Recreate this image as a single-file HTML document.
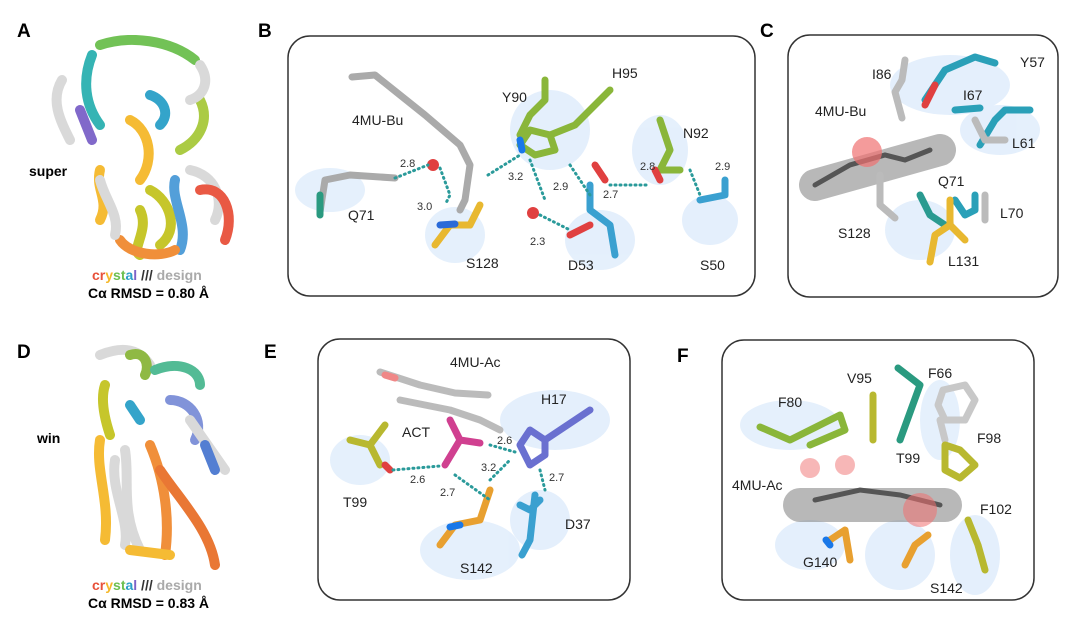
<!DOCTYPE html>
<html><head><meta charset="utf-8"><style>
body{margin:0;background:#fff;}
svg{display:block;font-family:"Liberation Sans",Arial,sans-serif;}
.pl{font-weight:bold;font-size:19px;}
.lb{font-size:14px;fill:#222;}
.sm{font-size:11px;fill:#333;}
.box{fill:none;stroke:#333;stroke-width:1.5;}
.st{fill:none;stroke-linecap:round;stroke-linejoin:round;}
.hb{stroke:#2a9a9a;stroke-width:3;stroke-dasharray:1 4;stroke-linecap:round;fill:none;}
.mesh{fill:#cfe3fa;opacity:0.55;}
</style></head><body>
<svg width="1080" height="630" viewBox="0 0 1080 630">
<text class="pl" x="17" y="37">A</text>
<text class="pl" x="258" y="37">B</text>
<text class="pl" x="760" y="37">C</text>
<text class="pl" x="17" y="358">D</text>
<text class="pl" x="264" y="358">E</text>
<text class="pl" x="677" y="362">F</text>

<!-- A protein -->
<g class="st" stroke-width="10" opacity="0.95">
<path d="M100 45 C130 35 170 40 195 60" stroke="#6bbf4e"/>
<path d="M92 55 C82 80 85 105 100 125" stroke="#2bb0b0"/>
<path d="M62 80 C50 100 60 120 70 140" stroke="#d8d8d8"/>
<path d="M80 110 L92 140" stroke="#7b62c8"/>
<path d="M130 120 C150 130 155 160 140 180" stroke="#f5b82a"/>
<path d="M100 170 C95 190 110 200 100 220" stroke="#f5b82a"/>
<path d="M150 190 C170 200 180 230 160 245" stroke="#c3c320"/>
<path d="M140 210 C150 230 130 250 140 255" stroke="#c3c320"/>
<path d="M180 150 C200 140 210 120 200 100" stroke="#a7c93a"/>
<path d="M190 170 C215 175 225 200 215 220" stroke="#d8d8d8"/>
<path d="M200 190 C225 185 235 215 225 240" stroke="#e8513a"/>
<path d="M175 180 C170 200 190 225 180 250" stroke="#4a9ad8"/>
<path d="M120 240 C130 255 160 258 175 250" stroke="#f08a30"/>
<path d="M150 95 C165 100 170 115 160 125" stroke="#2aa0c8"/>
<path d="M100 180 C105 200 120 215 115 235" stroke="#d8d8d8"/>
<path d="M200 65 C210 80 205 95 190 100" stroke="#d8d8d8"/>
</g>
<text x="29" y="176" style="font-size:14px;font-weight:bold">super</text>
<text x="92" y="280" style="font-size:14px;font-weight:bold"><tspan fill="#e8513a">cr</tspan><tspan fill="#f5b82a">y</tspan><tspan fill="#6bbf4e">st</tspan><tspan fill="#2aa0c8">a</tspan><tspan fill="#7b62c8">l</tspan><tspan fill="#333"> /// </tspan><tspan fill="#aaa">design</tspan></text>
<text x="88" y="298" style="font-size:14px;font-weight:bold">Cα RMSD = 0.80 Å</text>

<!-- D protein -->
<g class="st" stroke-width="10" opacity="0.95">
<path d="M100 355 C125 345 140 350 150 365" stroke="#d8d8d8"/>
<path d="M130 355 C145 350 150 365 145 375" stroke="#8ab63a"/>
<path d="M155 370 C180 360 200 370 200 385" stroke="#4ab890"/>
<path d="M170 400 C190 400 205 420 195 440" stroke="#7b8ed8"/>
<path d="M190 420 L225 470" stroke="#d8d8d8"/>
<path d="M205 445 L215 470" stroke="#4a78d0"/>
<path d="M105 385 C100 400 105 420 110 435" stroke="#c3c320"/>
<path d="M130 405 L140 420" stroke="#2aa0c8"/>
<path d="M100 440 C95 470 110 500 105 540" stroke="#f5b82a"/>
<path d="M125 450 C130 480 120 510 140 550" stroke="#d8d8d8"/>
<path d="M150 445 C165 480 170 520 165 555" stroke="#f08a30"/>
<path d="M160 470 C180 500 210 530 215 565" stroke="#e8702a"/>
<path d="M115 460 C110 490 130 520 125 545" stroke="#d8d8d8"/>
<path d="M130 550 L170 555" stroke="#f5b82a"/>
</g>
<text x="37" y="443" style="font-size:14px;font-weight:bold">win</text>
<text x="92" y="590" style="font-size:14px;font-weight:bold"><tspan fill="#e8513a">cr</tspan><tspan fill="#f5b82a">y</tspan><tspan fill="#6bbf4e">st</tspan><tspan fill="#2aa0c8">a</tspan><tspan fill="#7b62c8">l</tspan><tspan fill="#333"> /// </tspan><tspan fill="#aaa">design</tspan></text>
<text x="88" y="608" style="font-size:14px;font-weight:bold">Cα RMSD = 0.83 Å</text>

<!-- B box -->
<rect class="box" x="288" y="36" width="467" height="260" rx="22"/>
<g class="mesh">
<ellipse cx="330" cy="190" rx="35" ry="22"/><ellipse cx="455" cy="235" rx="30" ry="28"/>
<ellipse cx="550" cy="130" rx="40" ry="40"/><ellipse cx="600" cy="240" rx="35" ry="30"/>
<ellipse cx="660" cy="150" rx="28" ry="35"/><ellipse cx="710" cy="220" rx="28" ry="25"/>
</g>
<g class="st" stroke-width="7">
<path d="M352 77 L375 75 L400 95 L425 115 L460 145 L470 165 L465 200 L460 210" stroke="#aaa"/>
<path d="M320 212 L325 180 L350 175 L395 178" stroke="#aaa"/>
<path d="M320 215 L320 195" stroke="#2a9a80"/>
<path d="M435 245 L450 225 L470 225 L480 205" stroke="#e8b830"/>
<path d="M440 225 L455 224" stroke="#2a6ad8"/>
<path d="M520 145 L535 155 L555 150 L550 135 L530 130 Z" stroke="#8ab63a"/>
<path d="M520 135 L530 115 L545 100 L545 80" stroke="#8ab63a"/>
<path d="M550 135 L575 125 L600 100 L610 90" stroke="#8ab63a"/>
<path d="M520 140 L522 150" stroke="#1a78e8"/>
<path d="M595 165 L605 180" stroke="#e04040"/>
<path d="M590 185 L590 210 L610 225 L615 255" stroke="#3aa0d0"/>
<path d="M570 235 L590 225" stroke="#e04040"/>
<path d="M660 120 L670 150 L660 170 L680 170" stroke="#8ab63a"/>
<path d="M655 170 L660 180" stroke="#e04040"/>
<path d="M700 200 L725 195 L725 180" stroke="#3aa0d0"/>
</g>
<g fill="#e04040"><circle cx="433" cy="165" r="6"/><circle cx="533" cy="213" r="6"/></g>
<g class="hb">
<path d="M395 178 L428 165"/><path d="M440 168 L450 195 L445 205"/><path d="M488 175 L520 155"/>
<path d="M530 160 L545 200"/><path d="M570 165 L590 195"/><path d="M610 185 L650 185"/>
<path d="M540 215 L570 230"/><path d="M690 170 L700 195"/>
</g>
<text class="lb" x="352" y="125">4MU-Bu</text>
<text class="lb" x="502" y="102">Y90</text>
<text class="lb" x="612" y="78">H95</text>
<text class="lb" x="683" y="138">N92</text>
<text class="lb" x="348" y="220">Q71</text>
<text class="lb" x="466" y="268">S128</text>
<text class="lb" x="568" y="270">D53</text>
<text class="lb" x="700" y="270">S50</text>
<text class="sm" x="400" y="167">2.8</text>
<text class="sm" x="417" y="210">3.0</text>
<text class="sm" x="508" y="180">3.2</text>
<text class="sm" x="553" y="190">2.9</text>
<text class="sm" x="603" y="198">2.7</text>
<text class="sm" x="640" y="170">2.8</text>
<text class="sm" x="715" y="170">2.9</text>
<text class="sm" x="530" y="245">2.3</text>

<!-- C box -->
<rect class="box" x="788" y="35" width="270" height="262" rx="22"/>
<g class="mesh"><ellipse cx="950" cy="85" rx="60" ry="30"/><ellipse cx="1000" cy="130" rx="40" ry="25"/><ellipse cx="920" cy="230" rx="35" ry="30"/></g>
<path d="M815 185 L940 150" stroke="#888" stroke-width="32" stroke-linecap="round" opacity="0.6" fill="none"/>
<path d="M815 185 L850 165 L885 155 L905 160 L930 150" stroke="#555" stroke-width="5" fill="none" stroke-linecap="round"/>
<circle cx="867" cy="152" r="15" fill="#f07070" opacity="0.7"/>
<g class="st" stroke-width="7">
<path d="M905 60 L902 80 L895 92 L902 118" stroke="#bbb"/>
<path d="M925 100 L945 70 L975 57 L995 63" stroke="#2aa0b8"/>
<path d="M925 105 L935 85" stroke="#e04040"/>
<path d="M955 110 L980 108" stroke="#2aa0b8"/>
<path d="M980 145 L995 120 L1005 110 L1030 110" stroke="#2aa0b8"/>
<path d="M975 120 L985 140 L1005 140" stroke="#bbb"/>
<path d="M920 195 L930 215 L945 225" stroke="#2a9a90"/>
<path d="M955 200 L965 215 L975 210 L975 195" stroke="#2aa0b8"/>
<path d="M985 195 L985 220" stroke="#bbb"/>
<path d="M930 262 L935 235 L950 225 L965 240" stroke="#e8b830"/>
<path d="M950 200 L950 225" stroke="#e8b830"/>
<path d="M880 175 L880 205 L895 218" stroke="#bbb"/>
</g>
<text class="lb" x="872" y="79">I86</text>
<text class="lb" x="1020" y="67">Y57</text>
<text class="lb" x="963" y="100">I67</text>
<text class="lb" x="815" y="116">4MU-Bu</text>
<text class="lb" x="1012" y="148">L61</text>
<text class="lb" x="938" y="186">Q71</text>
<text class="lb" x="1000" y="218">L70</text>
<text class="lb" x="838" y="238">S128</text>
<text class="lb" x="948" y="266">L131</text>

<!-- E box -->
<rect class="box" x="318" y="339" width="312" height="261" rx="22"/>
<g class="mesh"><ellipse cx="360" cy="460" rx="30" ry="25"/><ellipse cx="470" cy="550" rx="50" ry="30"/><ellipse cx="555" cy="420" rx="55" ry="30"/><ellipse cx="540" cy="520" rx="30" ry="30"/></g>
<g class="st" stroke-width="7">
<path d="M380 372 L420 385 L455 393 L488 395" stroke="#bbb"/>
<path d="M400 400 L450 410 L480 420 L500 430" stroke="#bbb"/>
<path d="M385 375 L395 378" stroke="#f08888"/>
<path d="M450 420 L460 440 L480 443 M460 440 L445 465" stroke="#d04090"/>
<path d="M520 445 L530 430 L545 440 L545 455 L530 465 Z" stroke="#6a70d0"/>
<path d="M545 440 L590 410" stroke="#6a70d0"/>
<path d="M350 440 L370 445 L380 465 M370 445 L385 425" stroke="#b8b830"/>
<path d="M385 465 L390 470" stroke="#e04040"/>
<path d="M440 545 L455 525 L480 520 L490 490" stroke="#e8a030"/>
<path d="M460 525 L450 527" stroke="#1a78e8"/>
<path d="M520 505 L530 510 L540 500 M535 495 L530 540 L522 555" stroke="#3aa0d0"/>
</g>
<g class="hb">
<path d="M393 470 L440 466"/><path d="M455 475 L490 500"/><path d="M490 480 L510 460"/><path d="M490 445 L515 452"/><path d="M540 470 L545 490"/>
</g>
<text class="lb" x="450" y="367">4MU-Ac</text>
<text class="lb" x="541" y="404">H17</text>
<text class="lb" x="402" y="437">ACT</text>
<text class="lb" x="343" y="507">T99</text>
<text class="lb" x="565" y="529">D37</text>
<text class="lb" x="460" y="573">S142</text>
<text class="sm" x="497" y="444">2.6</text>
<text class="sm" x="481" y="471">3.2</text>
<text class="sm" x="410" y="483">2.6</text>
<text class="sm" x="440" y="496">2.7</text>
<text class="sm" x="549" y="481">2.7</text>

<!-- F box -->
<rect class="box" x="722" y="340" width="312" height="260" rx="22"/>
<g class="mesh"><ellipse cx="790" cy="425" rx="50" ry="25"/><ellipse cx="810" cy="545" rx="35" ry="25"/><ellipse cx="900" cy="555" rx="35" ry="35"/><ellipse cx="975" cy="555" rx="25" ry="40"/><ellipse cx="940" cy="420" rx="20" ry="40"/></g>
<path d="M800 505 L945 505" stroke="#888" stroke-width="34" stroke-linecap="round" opacity="0.6" fill="none"/>
<path d="M815 500 L860 490 L900 495 L940 505" stroke="#555" stroke-width="5" fill="none" stroke-linecap="round"/>
<circle cx="920" cy="510" r="17" fill="#f07070" opacity="0.55"/>
<circle cx="810" cy="468" r="10" fill="#f07070" opacity="0.5"/>
<circle cx="845" cy="465" r="10" fill="#f07070" opacity="0.5"/>
<g class="st" stroke-width="7">
<path d="M760 427 L790 440 L820 425 L840 415 L845 430 L810 445" stroke="#8ab63a"/>
<path d="M873 395 L873 440" stroke="#b8b830"/>
<path d="M898 368 L920 385 L900 440" stroke="#2a9a80"/>
<path d="M943 390 L965 385 L975 400 L965 420 L945 420 L938 405 Z M940 420 L945 440" stroke="#c8c8c8"/>
<path d="M945 445 L960 450 L975 465 L960 478 L945 470 Z" stroke="#b8b830"/>
<path d="M968 520 L978 545 L985 570" stroke="#b8b830"/>
<path d="M830 540 L845 530 L850 560" stroke="#e8a030"/>
<path d="M826 540 L830 545" stroke="#1a78e8"/>
<path d="M905 565 L915 545 L928 535" stroke="#e8a030"/>
</g>
<text class="lb" x="778" y="407">F80</text>
<text class="lb" x="847" y="383">V95</text>
<text class="lb" x="928" y="378">F66</text>
<text class="lb" x="977" y="443">F98</text>
<text class="lb" x="896" y="463">T99</text>
<text class="lb" x="732" y="490">4MU-Ac</text>
<text class="lb" x="980" y="514">F102</text>
<text class="lb" x="803" y="567">G140</text>
<text class="lb" x="930" y="593">S142</text>
</svg>
</body></html>
